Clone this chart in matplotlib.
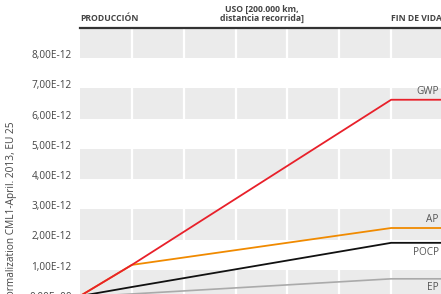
import matplotlib
matplotlib.use("Agg")
import matplotlib.pyplot as plt

# stage positions: start, end of production, end of use, end of life
stages = [0, 1, 6, 7]
gwp = [0.13, 1.16, 6.62, 6.62]
ap = [0.13, 1.16, 2.38, 2.38]
pocp = [0.13, 0.43, 1.89, 1.89]
ep = [0.10, 0.20, 0.70, 0.70]
series_names = ["GWP", "AP", "POCP", "EP"]
yticks = [0, 1, 2, 3, 4, 5, 6, 7, 8]
ytick_labels = ["0,00E+00", "1,00E-12", "2,00E-12", "3,00E-12", "4,00E-12",
                "5,00E-12", "6,00E-12", "7,00E-12", "8,00E-12"]
headers = ["PRODUCCIÓN", "USO [200.000 km,\ndistancia recorrida]", "FIN DE VIDA"]
ylabel = "Normalization CML1-April. 2013, EU 25"

plt.rcParams['font.family'] = ['Open Sans', 'DejaVu Sans']

W, H = 441, 294
fig = plt.figure(figsize=(W / 100, H / 100), dpi=100)

def fx(px):
    return px / W

def fy(py):
    return 1 - py / H

x0, x1 = 80, 443
ytop, ybot = 27.75, 300
ax = fig.add_axes([fx(x0), fy(ybot), fx(x1 - x0), (ybot - ytop) / H])
ax.set_xlim(0, 7)
ax.set_ylim(0, 9)

band = "#ebebeb"
for lo in [0, 2, 4, 6, 8]:
    ax.axhspan(lo, lo + 1, color=band, lw=0, zorder=0)
for xv in range(1, 7):
    ax.axvline(xv, color="white", lw=1.6, zorder=0.5)

ax.plot(stages, ep, color="#aaaaaa", lw=1.2, zorder=2)
ax.plot(stages, pocp, color="#111111", lw=1.3, zorder=3)
ax.plot(stages, ap, color="#f08a00", lw=1.3, zorder=3)
ax.plot(stages, gwp, color="#e8202a", lw=1.3, zorder=4)

for s in ["left", "right", "bottom"]:
    ax.spines[s].set_visible(False)
ax.spines["top"].set_color("#333333")
ax.spines["top"].set_linewidth(1.6)

ax.set_xticks([])
ax.set_yticks(yticks)
ax.set_yticklabels(ytick_labels)
ax.tick_params(axis="y", length=0, pad=6, labelsize=7.2, labelcolor="#444444")
for lbl in ax.get_yticklabels():
    lbl.set_verticalalignment("baseline")

# series labels
lab_kw = dict(fontsize=7.2, color="#555555", ha="right")
ax.text(6.92, gwp[-1] + 0.2, series_names[0], va="baseline", **lab_kw)
ax.text(6.92, ap[-1] + 0.2, series_names[1], va="baseline", **lab_kw)
ax.text(6.92, pocp[-1] - 0.15, series_names[2], va="top", **lab_kw)
ax.text(6.92, ep[-1] - 0.1, series_names[3], va="top", **lab_kw)

# headers
hk = dict(fontsize=6.2, color="#444444", fontweight="bold", linespacing=1.05)
fig.text(fx(80), fy(21), headers[0], ha="left", va="baseline", **hk)
fig.text(fx(261.5), fy(21), headers[1], ha="center", va="baseline", **hk)
fig.text(fx(391), fy(21), headers[2], ha="left", va="baseline", **hk)

fig.text(fx(12), fy(122), ylabel, rotation=90, ha="center", va="top",
         fontsize=7.3, color="#444444")

fig.savefig("out.png", dpi=100)
